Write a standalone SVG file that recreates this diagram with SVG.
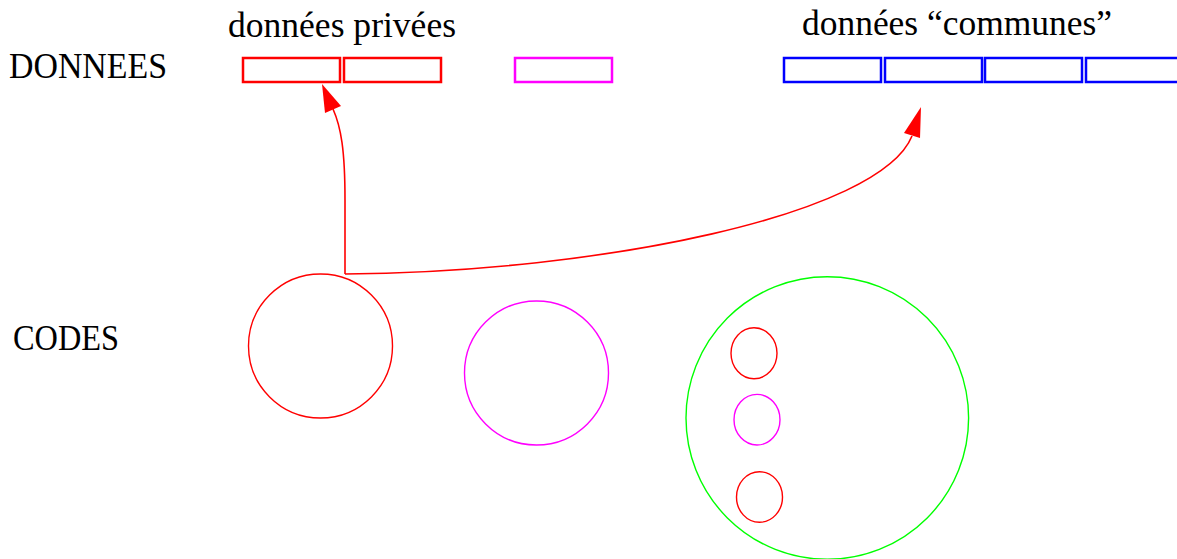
<svg xmlns="http://www.w3.org/2000/svg" width="1177" height="559" viewBox="0 0 1177 559">
  <style>
    .lbl { font-family: "Liberation Serif", "DejaVu Serif", serif; font-size: 35px; fill: #000; }
    .cell { fill: none; stroke-width: 2.5; }
    .ring { fill: none; stroke-width: 1.4; }
    .red { stroke: #ff0000; }
    .mag { stroke: #ff00ff; }
    .blue { stroke: #0000ff; }
    .green { stroke: #00ff00; }
    .link { fill: none; stroke: #ff0000; stroke-width: 1.6; }
    .head { fill: #ff0000; stroke: none; }
  </style>
  <rect width="1177" height="559" fill="#ffffff"/>

  <!-- row labels -->
  <g id="row-labels">
    <text class="lbl" x="9" y="78" textLength="158" lengthAdjust="spacingAndGlyphs">DONNEES</text>
    <text class="lbl" x="13" y="350" textLength="106" lengthAdjust="spacingAndGlyphs">CODES</text>
  </g>

  <!-- private data -->
  <g id="private-data">
    <text class="lbl" x="228" y="37" textLength="228" lengthAdjust="spacingAndGlyphs">données privées</text>
    <rect class="cell red" x="243" y="58" width="97" height="24"/>
    <rect class="cell red" x="344" y="58" width="97" height="24"/>
  </g>

  <g id="other-data">
    <rect class="cell mag" x="515" y="58" width="97" height="24"/>
  </g>

  <!-- shared data -->
  <g id="shared-data">
    <text class="lbl" x="802" y="35" textLength="310" lengthAdjust="spacingAndGlyphs">données “communes”</text>
    <rect class="cell blue" x="784" y="58" width="97" height="24"/>
    <rect class="cell blue" x="885" y="58" width="97" height="24"/>
    <rect class="cell blue" x="985" y="58" width="97" height="24"/>
    <rect class="cell blue" x="1086" y="58" width="97" height="24"/>
  </g>

  <!-- code blocks -->
  <g id="code-red">
    <circle class="ring red" cx="320.5" cy="346" r="72"/>
  </g>
  <g id="code-magenta">
    <circle class="ring mag" cx="536.5" cy="373" r="72"/>
  </g>
  <g id="code-group">
    <circle class="ring green" cx="827.3" cy="418" r="141.3"/>
    <ellipse class="ring red" cx="754" cy="353.3" rx="23" ry="25.5"/>
    <ellipse class="ring mag" cx="757" cy="419.7" rx="23" ry="25.3"/>
    <ellipse class="ring red" cx="759.5" cy="497" rx="23" ry="25.3"/>
  </g>

  <!-- connectors -->
  <g id="connectors">
    <path class="link" d="M345,274 L345,200 C345,150 341,127 333,109"/>
    <polygon class="head" points="322,84 325,113 341,106"/>
    <path class="link" d="M345,274 C600,272 880,215 912,136"/>
    <polygon class="head" points="921,107 904,133 920,138"/>
  </g>
</svg>
